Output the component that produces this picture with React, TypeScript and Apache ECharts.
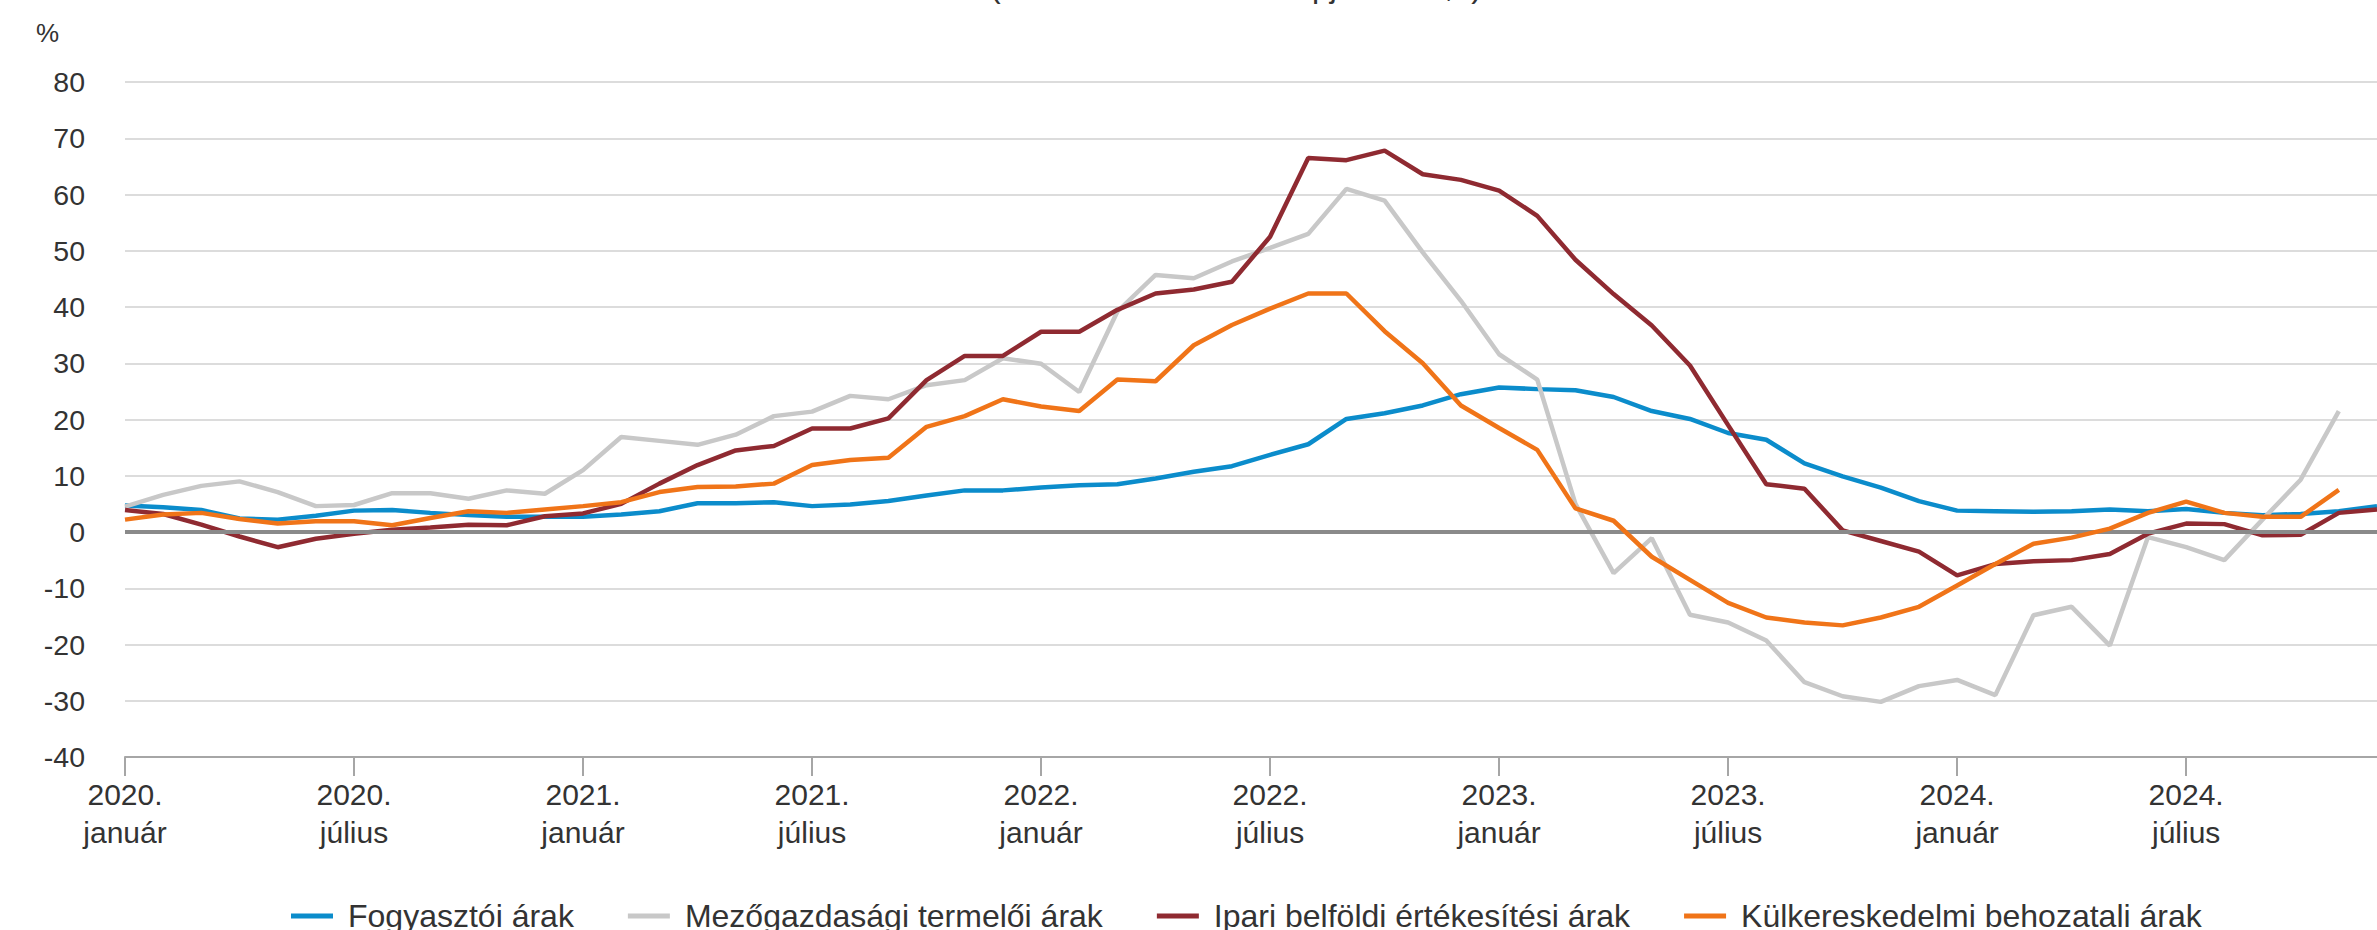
import React, { useEffect, useRef } from "react";
import * as echarts from "echarts";

const years = [2020, 2021, 2022, 2023, 2024];
const monthNames = [
  "január", "február", "március", "április", "május", "június",
  "július", "augusztus", "szeptember", "október", "november", "december",
];
const yTicks = { min: -40, max: 80, step: 10 };

const seriesNames = [
  "Fogyasztói árak",
  "Mezőgazdasági termelői árak",
  "Ipari belföldi értékesítési árak",
  "Külkereskedelmi behozatali árak",
];
const seriesColors = ["#0b8ccb", "#c8c8c8", "#8f2a31", "#f07418"];

const fogyasztoi = [
  4.7, 4.4, 3.9, 2.4, 2.2, 2.9, 3.8, 3.9, 3.4, 3.0, 2.7, 2.7,
  2.7, 3.1, 3.7, 5.1, 5.1, 5.3, 4.6, 4.9, 5.5, 6.5, 7.4, 7.4,
  7.9, 8.3, 8.5, 9.5, 10.7, 11.7, 13.7, 15.6, 20.1, 21.1, 22.5, 24.5,
  25.7, 25.4, 25.2, 24.0, 21.5, 20.1, 17.6, 16.4, 12.2, 9.9, 7.9, 5.5,
  3.8, 3.7, 3.6, 3.7, 4.0, 3.7, 4.1, 3.4, 3.0, 3.2, 3.7, 4.6,
];
const mezogazdasagi = [
  4.5, 6.6, 8.2, 9.0, 7.1, 4.6, 4.8, 6.9, 6.9, 5.9, 7.4, 6.8,
  11.0, 16.9, 16.2, 15.5, 17.3, 20.6, 21.4, 24.2, 23.6, 26.1, 27.0, 30.9,
  29.9, 24.9, 39.2, 45.7, 45.1, 48.1, 50.5, 53.0, 61.0, 58.9, 49.7, 41.1,
  31.6, 27.1, 5.0, -7.3, -1.1, -14.7, -16.1, -19.3, -26.7, -29.2, -30.2, -27.4,
  -26.3, -29.0, -14.8, -13.3, -20.2, -0.9, -2.7, -5.0, 2.2, 9.3, 21.5, null,
];
const ipari = [
  3.9, 3.2, 1.3, -0.8, -2.7, -1.2, -0.3, 0.4, 0.8, 1.3, 1.2, 2.8,
  3.3, 5.0, 8.6, 11.9, 14.5, 15.3, 18.4, 18.4, 20.2, 27.0, 31.3, 31.3,
  35.6, 35.6, 39.5, 42.4, 43.1, 44.5, 52.5, 66.5, 66.1, 67.8, 63.6, 62.6,
  60.7, 56.2, 48.4, 42.3, 36.7, 29.6, 19.0, 8.5, 7.7, 0.3, -1.6, -3.5,
  -7.7, -5.7, -5.2, -5.0, -3.9, -0.3, 1.5, 1.4, -0.6, -0.5, 3.4, 4.0,
];
const kulkereskedelmi = [
  2.2, 3.1, 3.4, 2.3, 1.5, 1.9, 1.9, 1.2, 2.5, 3.7, 3.4, 4.0,
  4.6, 5.3, 7.1, 8.0, 8.1, 8.6, 11.9, 12.8, 13.2, 18.7, 20.6, 23.6,
  22.3, 21.5, 27.1, 26.8, 33.2, 36.8, 39.7, 42.4, 42.4, 35.7, 30.0, 22.5,
  18.5, 14.6, 4.2, 2.0, -4.4, -8.5, -12.6, -15.2, -16.1, -16.6, -15.2, -13.3,
  -9.5, -5.7, -2.1, -1.0, 0.6, 3.4, 5.4, 3.4, 2.7, 2.7, 7.5, null,
];

const subtitle = "(előző év azonos hónapja = 100,0)";
const unitLabel = "%";

const categories: string[] = [];
years.forEach((y) => monthNames.forEach((m) => categories.push(`${y}.\n${m}`)));

const seriesValues = [fogyasztoi, mezogazdasagi, ipari, kulkereskedelmi];

const FONT = "Arial, 'Liberation Sans', sans-serif";

export default function App() {
  const ref = useRef<HTMLDivElement>(null);
  useEffect(() => {
    if (!ref.current) return;
    const chart = echarts.init(ref.current, undefined, { renderer: "svg" });
    const option: any = {
      animation: false,
      backgroundColor: "#ffffff",
      textStyle: { fontFamily: FONT },
      grid: { left: 125, right: -23.6, top: 82, bottom: 173, containLabel: false },
      graphic: [
        {
          type: "text",
          left: 36,
          top: 20,
          style: { text: unitLabel, font: `26px ${FONT}`, fill: "#333333" },
        },
        {
          type: "text",
          x: 990,
          y: -14,
          style: {
            text: subtitle,
            font: `32px ${FONT}`,
            fill: "#333333",
            verticalAlign: "middle",
          },
        },
      ],
      legend: {
        left: 286,
        top: 895,
        icon: "rect",
        itemWidth: 42,
        itemHeight: 5,
        itemGap: 54,
        data: seriesNames,
        textStyle: {
          fontSize: 32,
          color: "#333333",
          fontFamily: FONT,
          padding: [0, 0, 0, 10],
        },
      },
      xAxis: {
        type: "category",
        boundaryGap: false,
        data: categories,
        axisLine: { onZero: false, lineStyle: { color: "#a6a6a6", width: 2 } },
        axisTick: {
          interval: 5,
          length: 19,
          lineStyle: { color: "#a6a6a6", width: 2 },
        },
        axisLabel: {
          interval: 5,
          fontSize: 30,
          lineHeight: 38,
          color: "#333333",
          margin: 18,
          fontFamily: FONT,
        },
        splitLine: { show: false },
      },
      yAxis: {
        type: "value",
        min: yTicks.min,
        max: yTicks.max,
        interval: yTicks.step,
        axisLine: { show: false },
        axisTick: { show: false },
        axisLabel: { fontSize: 28.5, color: "#333333", margin: 40, fontFamily: FONT },
        splitLine: { lineStyle: { color: "#dcdcdc", width: 2 } },
      },
      series: [
        {
          name: "zero",
          type: "line",
          data: [],
          z: 1,
          silent: true,
          markLine: {
            silent: true,
            symbol: "none",
            label: { show: false },
            lineStyle: { color: "#8a8a8a", width: 4, type: "solid" },
            data: [{ yAxis: 0 }],
          },
        },
        ...seriesNames.map((name, i) => ({
          name,
          type: "line",
          data: seriesValues[i],
          showSymbol: false,
          symbol: "none",
          z: 2 + i,
          color: seriesColors[i],
          lineStyle: { color: seriesColors[i], width: 4.5 },
        })),
      ],
    };
    chart.setOption(option);
    return () => chart.dispose();
  }, []);
  return (
    <div
      ref={ref}
      style={{ position: "absolute", left: 0, top: 0, width: 2377, height: 930 }}
    />
  );
}
